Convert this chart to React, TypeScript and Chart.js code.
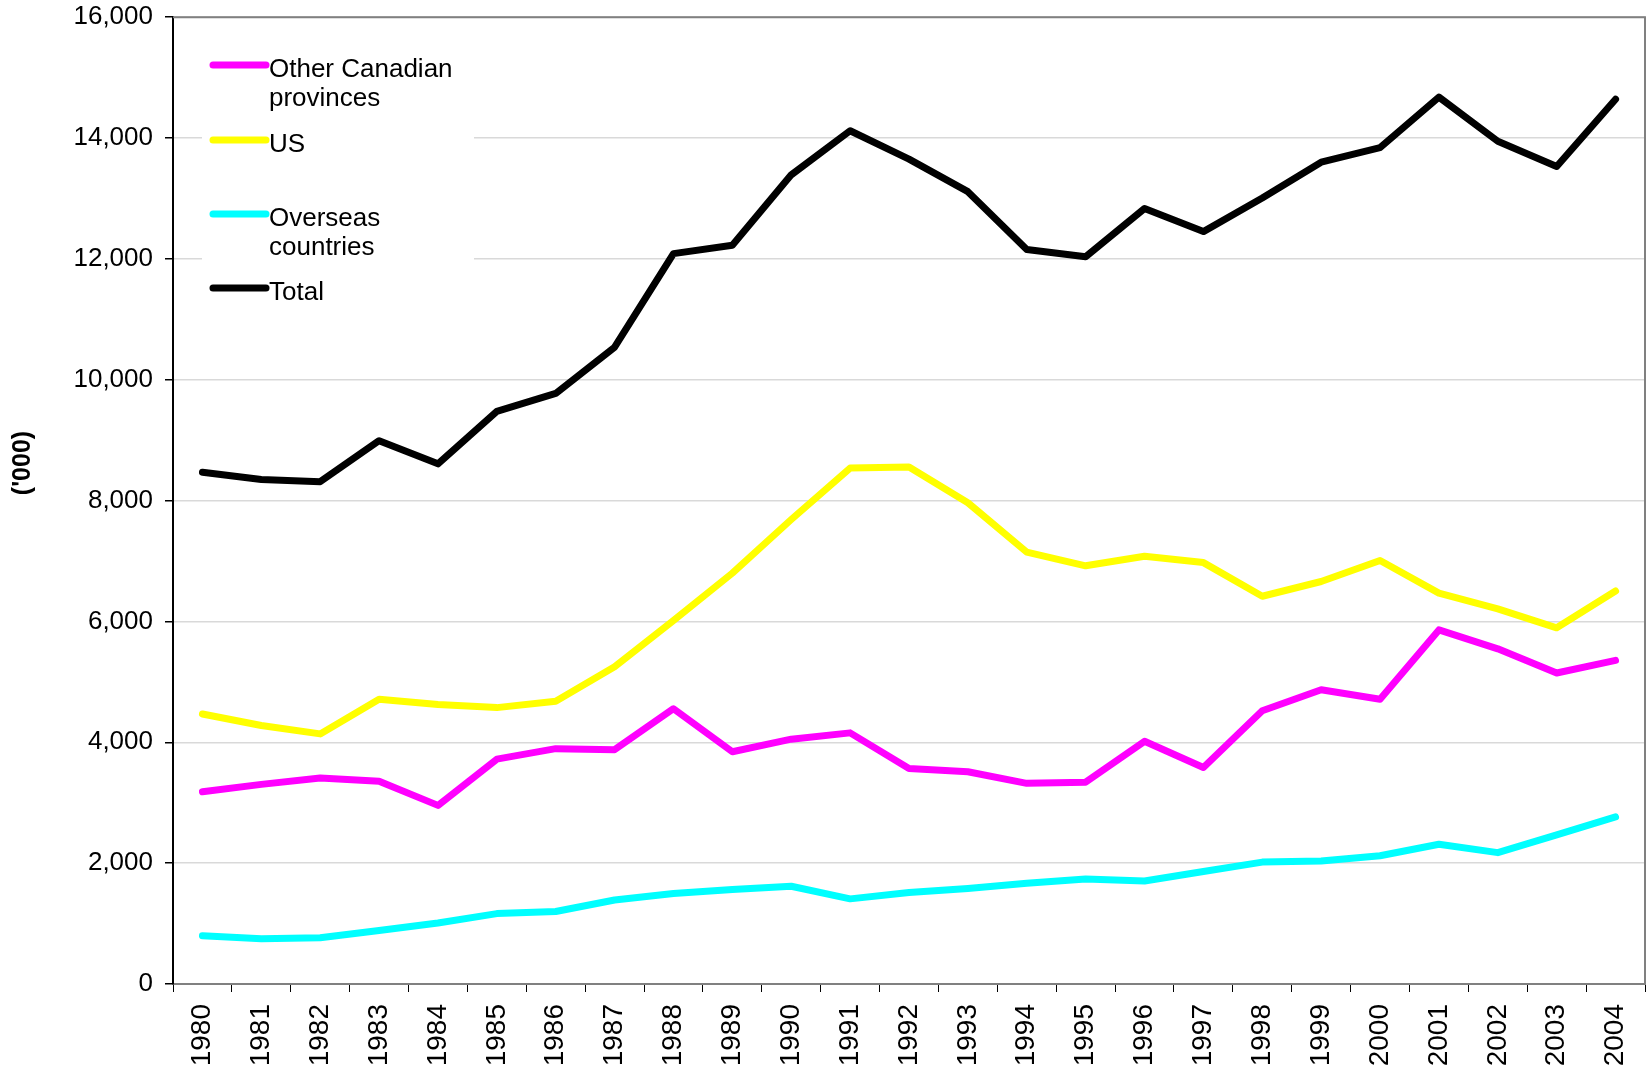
import React, { useEffect, useRef } from "react";
import { Chart, registerables } from "chart.js";

Chart.register(...registerables);

const years = [
  "1980", "1981", "1982", "1983", "1984", "1985", "1986", "1987", "1988", "1989",
  "1990", "1991", "1992", "1993", "1994", "1995", "1996", "1997", "1998", "1999",
  "2000", "2001", "2002", "2003", "2004",
];

const otherCanadian = [
  3182, 3304, 3408, 3356, 2956, 3721, 3895, 3878, 4556, 3843,
  4052, 4156, 3565, 3513, 3321, 3339, 4017, 3582, 4521, 4869,
  4713, 5860, 5547, 5147, 5356,
];

const us = [
  4469, 4278, 4139, 4713, 4626, 4574, 4678, 5252, 6017, 6800,
  7687, 8539, 8556, 7965, 7148, 6921, 7078, 6974, 6417, 6661,
  7008, 6469, 6208, 5895, 6504,
];

const overseas = [
  800, 748, 765, 887, 1009, 1165, 1200, 1391, 1496, 1565,
  1617, 1409, 1513, 1582, 1669, 1739, 1704, 1861, 2017, 2035,
  2122, 2313, 2174, 2469, 2765,
];

const total = [
  8470, 8348, 8313, 8991, 8608, 9478, 9774, 10539, 12087, 12226,
  13391, 14121, 13652, 13113, 12157, 12035, 12835, 12452, 13008, 13600,
  13843, 14678, 13947, 13530, 14643,
];

const seriesNames = [["Other Canadian", "provinces"], ["US"], ["Overseas", "countries"], ["Total"]];
const seriesColors = ["#FF00FF", "#FFFF00", "#00FFFF", "#000000"];
const yTitle = "('000)";

const FONT = "'Liberation Sans', Arial, sans-serif";

export default function App() {
  const ref = useRef<HTMLCanvasElement | null>(null);

  useEffect(() => {
    if (!ref.current) return;
    Chart.defaults.font.family = FONT;

    const customPlugin = {
      id: "custom",
      beforeDatasetsDraw(chart: any) {
        const ctx = chart.ctx;
        ctx.save();
        ctx.fillStyle = "#ffffff";
        ctx.fillRect(202, 30, 272, 290);
        ctx.restore();
      },
      afterDraw(chart: any) {
        const ctx = chart.ctx;
        const a = chart.chartArea;
        ctx.save();
        // frame
        ctx.strokeStyle = "#808080";
        ctx.lineWidth = 2;
        ctx.beginPath();
        ctx.moveTo(a.left, a.top);
        ctx.lineTo(a.right, a.top);
        ctx.lineTo(a.right, a.bottom);
        ctx.stroke();
        // legend
        const rows = [65, 140, 214, 288];
        ctx.font = `26px ${FONT}`;
        ctx.textBaseline = "alphabetic";
        ctx.textAlign = "left";
        rows.forEach((y, i) => {
          ctx.strokeStyle = seriesColors[i];
          ctx.lineWidth = 7;
          ctx.lineCap = "round";
          ctx.beginPath();
          ctx.moveTo(213, y);
          ctx.lineTo(266, y);
          ctx.stroke();
          ctx.fillStyle = "#000";
          seriesNames[i].forEach((t, j) => {
            ctx.fillText(t, 269, y + 12 + j * 29);
          });
        });
        // y title
        ctx.translate(23, 463);
        ctx.rotate(-Math.PI / 2);
        ctx.font = `bold 25px ${FONT}`;
        ctx.textAlign = "center";
        ctx.textBaseline = "middle";
        ctx.fillText(yTitle, 0, 0);
        ctx.restore();
      },
    };

    const mk = (label: string, data: number[], color: string) => ({
      label,
      data,
      borderColor: color,
      backgroundColor: color,
      borderWidth: 7,
      pointRadius: 0,
      tension: 0,
      fill: false,
      borderCapStyle: "round" as const,
      borderJoinStyle: "round" as const,
    });

    const chart = new Chart(ref.current, {
      type: "line",
      data: {
        labels: years,
        datasets: [
          mk("Overseas countries", overseas, seriesColors[2]),
          mk("US", us, seriesColors[1]),
          mk("Other Canadian provinces", otherCanadian, seriesColors[0]),
          mk("Total", total, seriesColors[3]),
        ],
      },
      options: {
        animation: false,
        responsive: false,
        devicePixelRatio: 1,
        layout: { padding: { top: 10, right: 3, left: 0, bottom: 0 } },
        plugins: {
          legend: { display: false },
          tooltip: { enabled: false },
        },
        scales: {
          x: {
            type: "category",
            offset: true,
            grid: {
              drawOnChartArea: false,
              drawTicks: true,
              tickLength: 8,
              offset: true,
              tickColor: "#000",
            },
            border: { display: true, color: "#808080", width: 2 },
            ticks: {
              color: "#000",
              font: { size: 28, family: FONT, lineHeight: 0.4 },
              minRotation: 90,
              maxRotation: 90,
              padding: 12,
              autoSkip: false,
            },
            afterFit(s: any) {
              s.height = 84;
            },
          },
          y: {
            min: 0,
            max: 16000,
            ticks: {
              stepSize: 2000,
              color: "#000",
              font: { size: 26, family: FONT, lineHeight: 0.4 },
              padding: 12,
              callback: (v: any) => Number(v).toLocaleString("en-US"),
            },
            grid: {
              color: "#d9d9d9",
              lineWidth: 1.5,
              tickColor: "#000",
              tickLength: 8,
            },
            border: { display: true, color: "#000", width: 2 },
            afterFit(s: any) {
              s.width = 173;
            },
          },
        },
      },
      plugins: [customPlugin],
    });

    return () => chart.destroy();
  }, []);

  return (
    <div style={{ position: "absolute", left: 0, top: 0, width: 1648, height: 1068, background: "#fff" }}>
      <canvas ref={ref} width={1648} height={1068} style={{ display: "block" }} />
    </div>
  );
}
